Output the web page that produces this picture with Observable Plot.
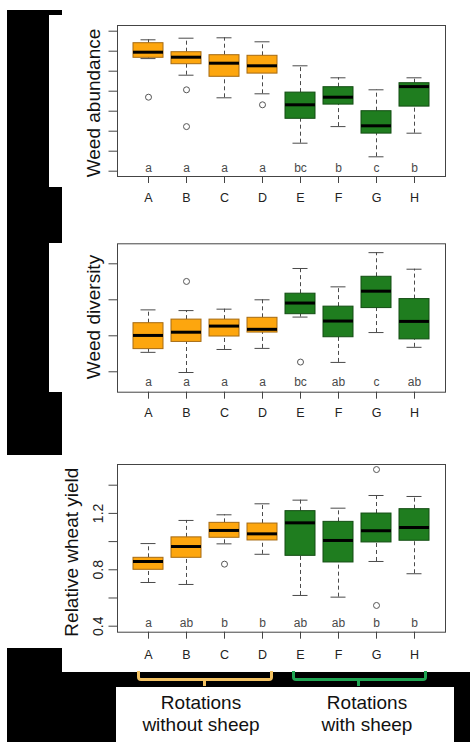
<!DOCTYPE html>
<html>
<head>
<meta charset="utf-8">
<script src="https://cdn.jsdelivr.net/npm/d3@7"></script>
<script src="https://cdn.jsdelivr.net/npm/@observablehq/plot@0.6"></script>
<style>
  html, body { margin: 0; padding: 0; background: #fff; }
  #wrap { position: relative; width: 470px; height: 742px; overflow: hidden; background: #fff;
          font-family: "Liberation Sans", Arial, sans-serif; }
  .blk { position: absolute; background: #000; }
  .br { position: absolute; box-sizing: border-box; border-style: solid; border-top: none; border-width: 3px; border-radius: 0 0 4px 4px; }
  .brt { position: absolute; width: 3px; }
  .lab { position: absolute; width: 200px; text-align: center; font-size: 19px; line-height: 21.7px; color: #111; }
  #wrap svg { position: absolute; left: 0; overflow: visible; }
  #wrap svg g[aria-label^="x-axis"] text { font-size: 12.5px; fill: #222; }
</style>
</head>
<body>
<div id="wrap">
  <div class="blk" style="left:7px;top:10px;width:55px;height:5px"></div>
  <div class="blk" style="left:7px;top:15px;width:42px;height:440px"></div>
  <div class="blk" style="left:49px;top:187px;width:13px;height:56px"></div>
  <div class="blk" style="left:49px;top:392px;width:13px;height:63px"></div>
  <div class="blk" style="left:7px;top:648px;width:55px;height:24px"></div>
  <div class="blk" style="left:7px;top:672px;width:463px;height:15px"></div>
  <div class="blk" style="left:7px;top:687px;width:109px;height:55px"></div>
  <div class="blk" style="left:454px;top:687px;width:16px;height:55px"></div>
  <div class="br" style="left:137px;top:671px;width:136px;height:10px;border-color:#f3c262"></div>
  <div class="brt" style="left:203px;top:680px;height:6px;background:#f3c262"></div>
  <div class="br" style="left:292px;top:671px;width:135px;height:10px;border-color:#1fa552"></div>
  <div class="brt" style="left:357px;top:680px;height:6px;background:#1fa552"></div>
  <div class="lab" style="left:101px;top:692px">Rotations<br>without sheep</div>
  <div class="lab" style="left:267px;top:692px">Rotations<br>with sheep</div>
</div>
<script>
// ---------- data ----------
const categories = ["A", "B", "C", "D", "E", "F", "G", "H"];
const sheep = [false, false, false, false, true, true, true, true];

// Weed abundance (unlabelled axis, tick units)
const abundanceLow = [5.63, 4.80, 3.67, 3.87, 1.40, 2.23, 0.72, 1.90];
const abundanceQ1  = [5.67, 5.35, 4.72, 4.88, 2.62, 3.33, 1.88, 3.23];
const abundanceMed = [5.95, 5.70, 5.40, 5.27, 3.32, 3.70, 2.27, 4.23];
const abundanceQ3  = [6.40, 5.95, 5.80, 5.77, 3.93, 4.20, 3.00, 4.40];
const abundanceHigh= [6.57, 6.65, 6.67, 6.47, 5.27, 4.67, 4.07, 4.67];
const abundanceOutCat = ["A", "B", "B", "D"];
const abundanceOutVal = [3.70, 4.07, 2.23, 3.32];
const abundanceLetters = ["a", "a", "a", "a", "bc", "b", "c", "b"];
const abundanceTicks = [0, 1, 2, 3, 4, 5, 6, 7];

// Weed diversity (unlabelled axis, tick units)
const diversityLow = [0.54, -0.02, 0.62, 0.65, 1.52, 0.26, 1.09, 0.68];
const diversityQ1  = [0.63, 0.83, 0.98, 1.09, 1.60, 0.96, 1.77, 0.90];
const diversityMed = [1.01, 1.10, 1.27, 1.18, 1.91, 1.41, 2.24, 1.40];
const diversityQ3  = [1.35, 1.45, 1.45, 1.50, 2.17, 1.81, 2.64, 2.02];
const diversityHigh= [1.72, 1.70, 1.74, 2.00, 2.87, 2.36, 3.31, 2.85];
const diversityOutCat = ["B", "E"];
const diversityOutVal = [2.51, 0.27];
const diversityLetters = ["a", "a", "a", "a", "bc", "ab", "c", "ab"];
const diversityTicks = [0, 1, 2, 3];

// Relative wheat yield
const yieldLow = [0.710, 0.696, 0.984, 0.910, 0.618, 0.606, 0.859, 0.772];
const yieldQ1  = [0.800, 0.885, 1.027, 1.008, 0.899, 0.852, 0.994, 1.006];
const yieldMed = [0.859, 0.965, 1.079, 1.055, 1.133, 1.008, 1.077, 1.100];
const yieldQ3  = [0.885, 1.030, 1.133, 1.128, 1.216, 1.140, 1.199, 1.230];
const yieldHigh= [0.986, 1.150, 1.190, 1.268, 1.294, 1.237, 1.327, 1.320];
const yieldOutCat = ["C", "G", "G"];
const yieldOutVal = [0.84, 1.511, 0.547];
const yieldLetters = ["a", "ab", "b", "b", "ab", "ab", "b", "b"];
const yieldTicks = [0.4, 0.6, 0.8, 1.0, 1.2, 1.4];
const yieldTickLabels = [0.4, 0.8, 1.2];

// ---------- drawing ----------
const FONT = "Liberation Sans, Arial, sans-serif";
const ORANGE = "#FDA60E", ORANGE_EDGE = "#a56a12";
const GREEN = "#1f7d1f", GREEN_EDGE = "#134d13";

function panel(cfg) {
  const rows = categories.map((c, i) => ({
    cat: c, sheep: sheep[i],
    lo: cfg.low[i], q1: cfg.q1[i], med: cfg.med[i], q3: cfg.q3[i], hi: cfg.high[i],
    letter: cfg.letters[i]
  }));
  const outs = cfg.outCat.map((c, i) => ({cat: c, v: cfg.outVal[i]}));
  const marks = [
    Plot.ruleX(rows, {x: "cat", y1: "lo", y2: "q1", stroke: "#4a4a4a", strokeDasharray: "4,3"}),
    Plot.ruleX(rows, {x: "cat", y1: "q3", y2: "hi", stroke: "#4a4a4a", strokeDasharray: "4,3"}),
    Plot.tickY(rows, {x: "cat", y: "lo", stroke: "#4a4a4a", insetLeft: 7.5, insetRight: 7.5}),
    Plot.tickY(rows, {x: "cat", y: "hi", stroke: "#4a4a4a", insetLeft: 7.5, insetRight: 7.5}),
    Plot.barY(rows.filter(d => !d.sheep), {x: "cat", y1: "q1", y2: "q3", fill: ORANGE, stroke: ORANGE_EDGE, strokeWidth: 1}),
    Plot.barY(rows.filter(d => d.sheep), {x: "cat", y1: "q1", y2: "q3", fill: GREEN, stroke: GREEN_EDGE, strokeWidth: 1}),
    Plot.tickY(rows, {x: "cat", y: "med", stroke: "#000", strokeWidth: 3}),
    Plot.dot(outs, {x: "cat", y: "v", r: 3, stroke: "#555", strokeWidth: 1, fill: "none"}),
    Plot.text(rows, {x: "cat", y: () => cfg.letterY, text: "letter", fill: "#4a4a4a", fontSize: 12}),
    Plot.text([cfg.title], {text: d => d, frameAnchor: "left", textAnchor: "middle", lineAnchor: "middle", rotate: -90, dx: cfg.titleDx, dy: cfg.titleDy, fontSize: 19, fill: "#111"}),
    Plot.frame({stroke: "#444"})
  ];
  if (cfg.tickLabels) {
    marks.push(Plot.text(cfg.tickLabels, {y: d => d, text: d => d.toFixed(1), frameAnchor: "left", textAnchor: "middle", lineAnchor: "middle", rotate: -90, dx: -19, fontSize: 14, fill: "#222"}));
  }
  const svg = Plot.plot({
    width: 470,
    height: cfg.height,
    marginLeft: 117,
    marginRight: 25,
    marginTop: cfg.mt,
    marginBottom: cfg.mb,
    style: {fontFamily: FONT, fontSize: "12.5px", color: "#444", background: "transparent"},
    x: {domain: categories, paddingInner: 8 / 38, paddingOuter: 0.421, tickSize: 7, tickPadding: cfg.xPad, label: null},
    y: {domain: cfg.domain, ticks: cfg.ticks, tickFormat: () => "", tickSize: 8.5, label: null},
    marks
  });
  svg.style.top = cfg.top + "px";
  document.getElementById("wrap").appendChild(svg);
}

panel({
  low: abundanceLow, q1: abundanceQ1, med: abundanceMed, q3: abundanceQ3, high: abundanceHigh,
  outCat: abundanceOutCat, outVal: abundanceOutVal, letters: abundanceLetters, ticks: abundanceTicks,
  title: "Weed abundance", domain: [-0.265, 7.285], letterY: 0.17,
  top: 0, height: 220, mt: 25, mb: 44, xPad: 9.5, titleDx: -24, titleDy: 2
});
panel({
  low: diversityLow, q1: diversityQ1, med: diversityMed, q3: diversityQ3, high: diversityHigh,
  outCat: diversityOutCat, outVal: diversityOutVal, letters: diversityLetters, ticks: diversityTicks,
  title: "Weed diversity", domain: [-0.567, 3.556], letterY: -0.3,
  top: 225, height: 210, mt: 18.3, mb: 43.3, xPad: 8.5, titleDx: -24, titleDy: -1
});
panel({
  low: yieldLow, q1: yieldQ1, med: yieldMed, q3: yieldQ3, high: yieldHigh,
  outCat: yieldOutCat, outVal: yieldOutVal, letters: yieldLetters, ticks: yieldTicks,
  tickLabels: yieldTickLabels,
  title: "Relative wheat yield", domain: [0.3574, 1.5468], letterY: 0.42,
  top: 445, height: 225, mt: 19, mb: 38.3, xPad: 10.5, titleDx: -45.5, titleDy: 3.8
});
</script>
</body>
</html>
